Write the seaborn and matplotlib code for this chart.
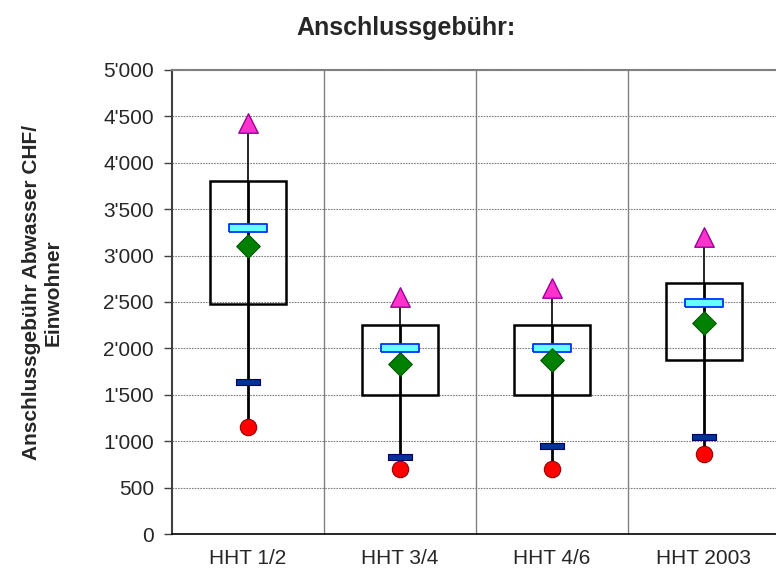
import numpy as np
import pandas as pd
import seaborn as sns
import matplotlib.pyplot as plt
from matplotlib.ticker import FuncFormatter, MultipleLocator, FixedLocator

# values
categories = ["HHT 1/2", "HHT 3/4", "HHT 4/6", "HHT 2003"]
maximum = [4430, 2550, 2650, 3200]
q3 = [3800, 2250, 2250, 2700]
median = [3300, 2000, 2000, 2490]
mean = [3100, 1830, 1870, 2270]
q1 = [2475, 1500, 1500, 1870]
lower = [1640, 830, 950, 1040]
minimum = [1150, 700, 700, 860]

df = pd.DataFrame({"pos": np.arange(len(categories)), "cat": categories,
                   "max": maximum, "q3": q3, "median": median, "mean": mean,
                   "q1": q1, "lower": lower, "min": minimum})

sns.set_style("white")
plt.rcParams["font.family"] = ["Liberation Sans", "DejaVu Sans"]

fig = plt.figure(figsize=(7.76, 5.72), dpi=100)
ax = fig.add_axes([172/776, 1-534/572, 608/776, 464/572])

# grid
ax.set_ylim(0, 5000)
ax.set_xlim(-0.5, 3.5)
ax.yaxis.set_major_locator(MultipleLocator(500))
ax.grid(axis="y", color="#808080", linestyle=(0, (1.5, 1)), linewidth=0.8, zorder=0)
for xb in [0.5, 1.5, 2.5]:
    ax.axvline(xb, color="#808080", linewidth=1, zorder=0)

# whiskers
ax.vlines(df["pos"], df["q3"], df["max"], color="black", linewidth=1.2, zorder=2)
ax.vlines(df["pos"], df["min"], df["q3"], color="black", linewidth=2.0, zorder=2)

# boxes
ax.bar(df["pos"], df["q3"] - df["q1"], bottom=df["q1"], width=0.5, fill=False,
       edgecolor="black", linewidth=1.8, zorder=3)

wide_bar = [(-1, -0.2), (1, -0.2), (1, 0.2), (-1, 0.2), (-1, -0.2)]
thin_bar = [(-1, -0.22), (1, -0.22), (1, 0.22), (-1, 0.22), (-1, -0.22)]

sns.scatterplot(data=df, x="pos", y="max", marker="^", s=196, color="#FF33CC",
                edgecolor="#990099", linewidth=1, zorder=5, ax=ax)
sns.scatterplot(data=df, x="pos", y="median", marker=wide_bar, s=756, color="#66FFFF",
                edgecolor="#0033FF", linewidth=1.3, zorder=5, ax=ax)
sns.scatterplot(data=df, x="pos", y="mean", marker="D", s=144, color="#008000",
                edgecolor="#005500", linewidth=0.8, zorder=6, ax=ax)
sns.scatterplot(data=df, x="pos", y="lower", marker=thin_bar, s=276, color="#003399",
                edgecolor="#000066", linewidth=0.8, zorder=5, ax=ax)
sns.scatterplot(data=df, x="pos", y="min", marker="o", s=139, color="#FF0000",
                edgecolor="#990000", linewidth=0.8, zorder=5, ax=ax)

# axes styling
ax.spines["right"].set_visible(False)
ax.spines["top"].set_color("#808080")
ax.spines["top"].set_linewidth(1.5)
ax.spines["left"].set_color("#404040")
ax.spines["left"].set_linewidth(1.5)
ax.spines["bottom"].set_color("black")
ax.spines["bottom"].set_linewidth(1.2)

ax.set_xticks(df["pos"])
ax.set_xticklabels(categories, fontsize=15)
ax.xaxis.set_minor_locator(FixedLocator([-0.5, 0.5, 1.5, 2.5]))
ax.tick_params(axis="x", which="major", length=0, pad=11)
ax.tick_params(axis="x", which="minor", length=4, width=1, color="#404040", direction="out")
ax.tick_params(axis="y", which="major", length=6, width=1, color="#404040",
               direction="out", left=True, labelsize=15, pad=7)
ax.yaxis.set_major_formatter(FuncFormatter(lambda v, p: f"{int(v):,}".replace(",", "'")))
ax.set_xlabel("")
ax.set_ylabel("")

fig.text(42/776, 1-293/572, "Anschlussgebühr Abwasser CHF/\nEinwohner", rotation=90,
         ha="center", va="center", multialignment="center", fontsize=15,
         fontweight="bold", linespacing=1.15)
fig.text(406/776, 1-35/572, "Anschlussgebühr:", ha="center", va="baseline",
         fontsize=18, fontweight="bold")

fig.savefig("out.png", dpi=100)
